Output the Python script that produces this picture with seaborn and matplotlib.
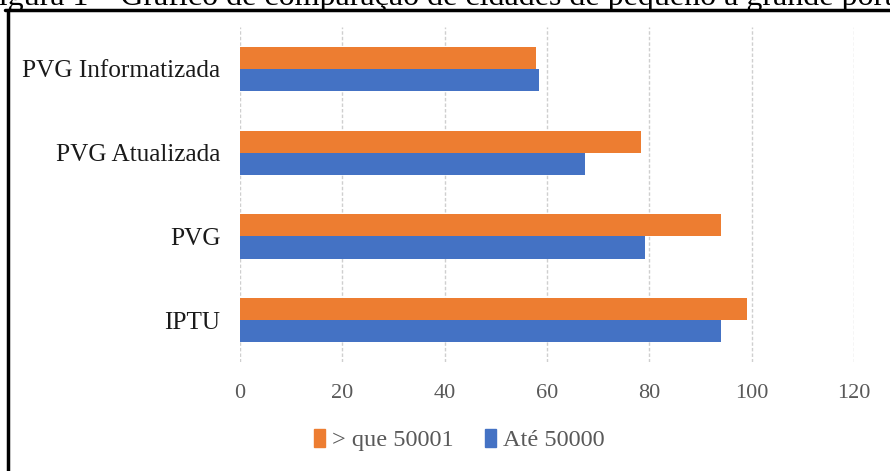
import pandas as pd
import matplotlib.pyplot as plt
import seaborn as sns
from matplotlib.lines import Line2D

# data
categorias = ["PVG Informatizada", "PVG Atualizada", "PVG", "IPTU"]
grupos = ["> que 50001", "Até 50000"]
maior_50001 = [57.9, 78.4, 94.0, 99.1]
ate_50000 = [58.4, 67.5, 79.1, 94.0]
xticks = [0, 20, 40, 60, 80, 100, 120]

cores = {"> que 50001": "#ED7D31", "Até 50000": "#4472C4"}

df = pd.DataFrame({
    "Categoria": categorias * 2,
    "Grupo": [grupos[0]] * len(categorias) + [grupos[1]] * len(categorias),
    "Valor": maior_50001 + ate_50000,
})

sns.set_style("white")
plt.rcParams["font.family"] = ["Liberation Serif", "DejaVu Serif"]

fig = plt.figure(figsize=(8.9, 4.71), dpi=100)
ax = fig.add_axes([0.2697, 0.2314, 0.690, 0.711])

sns.barplot(data=df, x="Valor", y="Categoria", hue="Grupo", order=categorias,
            hue_order=grupos, palette=cores, width=0.53, orient="h",
            saturation=1, edgecolor="none", legend=False, ax=ax)

ax.set_xlim(0, 120)
ax.set_ylim(3.5, -0.5)
ax.set_xticks(xticks)
ax.set_xlabel("")
ax.set_ylabel("")
ax.grid(axis="x", color="#cfcfcf", linestyle=(0, (2.5, 1.5)), linewidth=1)
ax.set_axisbelow(True)
for s in ax.spines.values():
    s.set_visible(False)
ax.tick_params(axis="x", length=0, pad=16, labelsize=16, labelcolor="#595959")
ax.tick_params(axis="y", length=0, pad=14, labelsize=18.2, labelcolor="#1a1a1a")

handles = [plt.Rectangle((0, 0), 1, 1, color=cores[g]) for g in grupos]
fig.legend(handles, grupos, loc="center", bbox_to_anchor=(0.516, 0.066), ncol=2,
           frameon=False, fontsize=17.5, handlelength=0.45, handleheight=0.75,
           handletextpad=0.3, columnspacing=1.3, labelcolor="#595959")

# frame of the figure box and the caption above it, clipped like the reference
fig.add_artist(Line2D([0.006, 1.0], [0.979, 0.979], color="black", lw=2.5,
                      transform=fig.transFigure))
fig.add_artist(Line2D([0.009, 0.009], [0.0, 0.979], color="black", lw=2.5,
                      transform=fig.transFigure))
fig.text(-0.021, 0.990, "Figura 1 – Gráfico de comparação de cidades de pequeno a grande porte",
         fontsize=23, ha="left", va="baseline", color="black")

fig.savefig("out.png", dpi=100)
